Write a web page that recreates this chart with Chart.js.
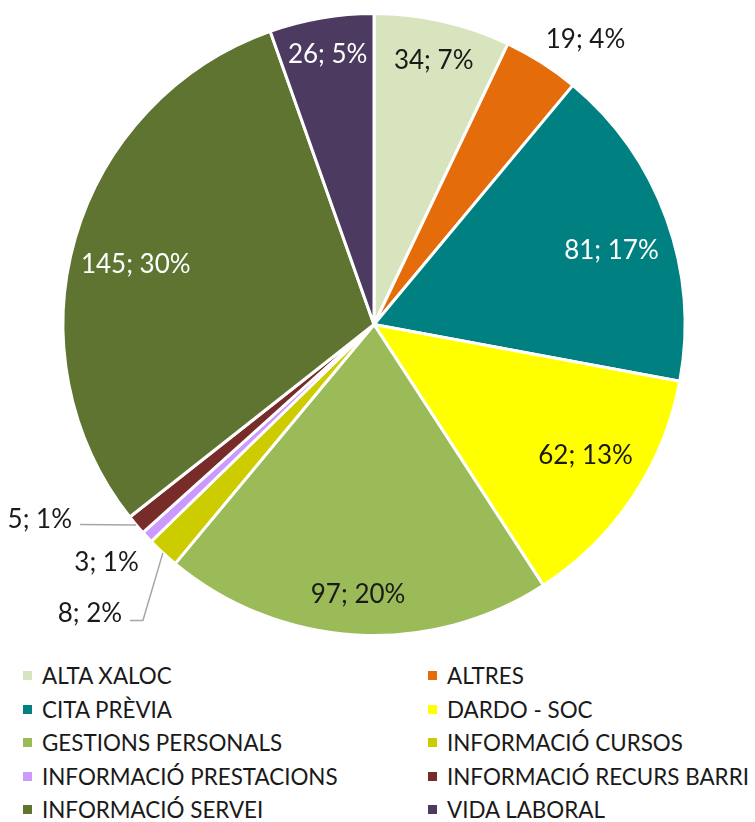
<!DOCTYPE html>
<html>
<head>
<meta charset="utf-8">
<script src="https://cdn.jsdelivr.net/npm/chart.js@4/dist/chart.umd.min.js"></script>
<style>
    body { margin: 0; background: #fff; width: 755px; height: 822px; overflow: hidden; font-family: Lato, sans-serif; }
    #wrap { position: relative; width: 755px; height: 650px; }
    #legend { position: absolute; left: 0; top: 662px; width: 755px; }
    .item { position: absolute; display: flex; align-items: center; font-size: 22.4px; color: #1a1a1a; white-space: nowrap; }
    .box { width: 9px; height: 9px; margin-right: 10px; }
</style>
</head>
<body>
<div id="wrap"><canvas id="pieChart"></canvas></div>
<div id="legend"></div>
<script>
// Chart data
const categories = ['ALTA XALOC', 'ALTRES', 'CITA PRÈVIA', 'DARDO - SOC', 'GESTIONS PERSONALS',
    'INFORMACIÓ CURSOS', 'INFORMACIÓ PRESTACIONS', 'INFORMACIÓ RECURS BARRI', 'INFORMACIÓ SERVEI', 'VIDA LABORAL'];
const counts = [34, 19, 81, 62, 97, 8, 3, 5, 145, 26];
const percents = [7, 4, 17, 13, 20, 2, 1, 1, 30, 5];

const sliceColors = ['#D7E4BD', '#E46C0A', '#008080', '#FFFF00', '#9BBB59',
    '#CCCC00', '#CC99FF', '#772C2A', '#5F7431', '#4C3A61'];
const labelColors = ['#1a1a1a', '#1a1a1a', '#ffffff', '#1a1a1a', '#1a1a1a',
    '#1a1a1a', '#1a1a1a', '#1a1a1a', '#ffffff', '#ffffff'];

// Label placement: radius fraction along the slice's middle angle,
// or a fixed spot (in radius units) with an optional leader line
const labelPlace = [
    { r: 0.87 },
    { r: 1.14, shift: 4 },
    { r: 0.80, shift: 2.5 },
    { r: 0.80, shift: -2 },
    { r: 0.87 },
    { x: -0.81, y: 0.93, align: 'right', line: [[-0.743, 0.952], [-0.785, 0.952]] },
    { x: -0.86, y: 0.765 },
    { x: -0.971, y: 0.626, align: 'right', line: [[-0.945, 0.643]] },
    { r: 0.79, shift: -2 },
    { r: 0.88 }
];

const pieLabels = {
    id: 'pieLabels',
    afterDatasetsDraw(chart) {
        const ctx = chart.ctx;
        const arcs = chart.getDatasetMeta(0).data;
        ctx.save();
        ctx.font = '26px Lato, sans-serif';
        ctx.textBaseline = 'middle';
        arcs.forEach((arc, i) => {
            const p = labelPlace[i];
            const R = arc.outerRadius;
            const mid = (arc.startAngle + arc.endAngle) / 2;
            const text = counts[i] + '; ' + percents[i] + '%';
            let x, y;
            if (p.r !== undefined) {
                const a = mid + (p.shift || 0) * Math.PI / 180;
                x = arc.x + Math.cos(a) * R * p.r;
                y = arc.y + Math.sin(a) * R * p.r;
            } else {
                x = arc.x + p.x * R;
                y = arc.y + p.y * R;
            }
            if (p.line) {
                ctx.strokeStyle = '#A6A6A6';
                ctx.lineWidth = 1.5;
                ctx.beginPath();
                ctx.moveTo(arc.x + Math.cos(mid) * R, arc.y + Math.sin(mid) * R);
                p.line.forEach(pt => ctx.lineTo(arc.x + pt[0] * R, arc.y + pt[1] * R));
                ctx.stroke();
            }
            ctx.fillStyle = labelColors[i];
            ctx.textAlign = p.align || 'center';
            ctx.fillText(text, x, y);
        });
        ctx.restore();
    }
};

function buildLegend() {
    const legend = document.getElementById('legend');
    legend.innerHTML = categories.map((name, i) => {
        const col = i % 2;
        const row = Math.floor(i / 2);
        const left = col === 0 ? 23 : 428;
        const top = row * 33.6;
        return `<div class="item" style="left:${left}px;top:${top}px">
                    <span class="box" style="background:${sliceColors[i]}"></span>${name}
                </div>`;
    }).join('');
}

function createPie() {
    const ctx = document.getElementById('pieChart').getContext('2d');
    new Chart(ctx, {
        type: 'pie',
        data: {
            labels: categories,
            datasets: [{
                data: counts,
                backgroundColor: sliceColors,
                borderColor: '#ffffff',
                borderWidth: 3,
                hoverOffset: 0
            }]
        },
        options: {
            responsive: false,
            animation: false,
            layout: { padding: { top: 12, bottom: 13, left: 0, right: 7 } },
            plugins: {
                legend: { display: false },
                tooltip: { enabled: false }
            }
        },
        plugins: [pieLabels]
    });
}

document.getElementById('pieChart').width = 755;
document.getElementById('pieChart').height = 650;
buildLegend();
createPie();
</script>
</body>
</html>
